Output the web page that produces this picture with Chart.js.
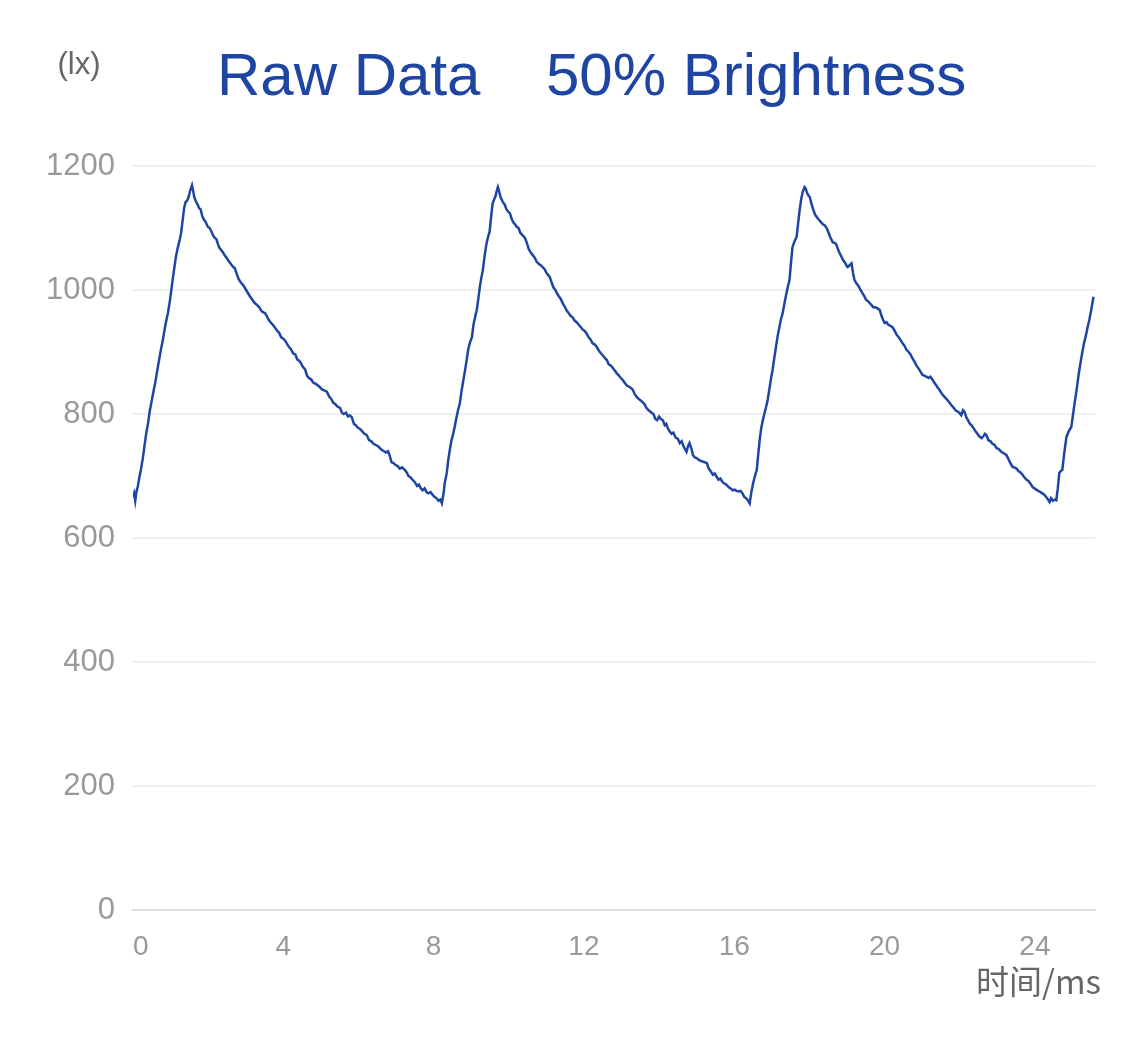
<!DOCTYPE html>
<html>
<head>
<meta charset="utf-8">
<script src="https://cdn.jsdelivr.net/npm/chart.js@4"></script>
<style>
  html, body { margin: 0; padding: 0; background: #fff; }
  #wrap { width: 1125px; height: 1040px; position: relative; }
</style>
</head>
<body>
<div id="wrap"><canvas id="myChart" width="1125" height="1040"></canvas></div>
<script>
// tempo (ms)
var tempos = [
  0.00,0.03,0.06,0.09,0.13,0.17,0.21,0.26,0.30,0.35,0.40,0.45,0.50,0.55,0.59,0.64,0.69,0.74,0.79,0.84,0.89,0.93,0.97,1.01,1.05,1.10,1.14,1.19,1.24,1.28,1.32,1.36,1.40,1.44,1.48,1.52,1.57,
  1.60,1.63,1.68,1.72,1.76,1.80,1.84,1.88,1.93,1.99,2.04,2.09,2.14,2.18,2.22,2.26,2.30,2.34,2.39,2.44,2.49,2.53,2.58,2.63,2.67,2.71,2.76,2.81,2.87,2.93,2.99,3.05,3.11,3.18,3.24,3.30,3.36,3.42,3.47,3.51,3.56,3.61,3.66,3.72,3.78,3.84,3.89,3.94,3.99,4.04,4.10,4.15,4.20,4.26,4.32,4.37,4.42,4.47,4.52,4.58,4.63,4.68,4.74,4.79,4.85,4.90,4.96,5.02,5.09,5.16,5.22,5.28,5.33,5.38,5.44,5.51,5.56,5.61,5.67,5.72,5.77,5.82,5.88,5.93,5.98,6.04,6.10,6.16,6.22,6.28,6.34,6.40,6.46,6.52,6.57,6.62,6.68,6.73,6.79,6.84,6.88,6.93,6.98,7.04,7.10,7.16,7.23,7.28,7.33,7.38,7.44,7.50,7.56,7.61,7.66,7.71,7.76,7.81,7.86,7.92,7.98,8.03,8.08,8.13,8.18,8.22,
  8.26,8.30,8.35,8.39,8.43,8.47,8.52,8.56,8.60,8.65,8.70,8.74,8.79,8.84,8.88,8.92,8.97,9.02,9.06,9.11,9.15,9.19,9.23,9.27,9.31,9.36,9.41,9.45,9.49,9.53,9.57,9.61,9.65,9.68,9.71,
  9.74,9.78,9.84,9.89,9.94,9.99,10.03,10.08,10.13,10.17,10.21,10.26,10.31,10.37,10.43,10.48,10.53,10.59,10.64,10.69,10.74,10.80,10.85,10.90,10.95,11.00,11.05,11.09,11.14,11.19,11.24,11.28,11.33,11.38,11.44,11.49,11.55,11.60,11.65,11.70,11.76,11.81,11.86,11.92,11.97,12.02,12.07,12.12,12.18,12.23,12.29,12.34,12.40,12.45,12.51,12.56,12.61,12.66,12.72,12.77,12.82,12.87,12.93,12.98,13.03,13.09,13.14,13.20,13.25,13.30,13.35,13.40,13.46,13.51,13.56,13.61,13.66,13.72,13.76,13.80,13.85,13.90,13.95,14.00,14.05,14.10,14.15,14.19,14.23,14.28,14.33,14.38,14.44,14.50,14.55,14.60,14.65,14.70,14.73,14.77,14.81,14.86,14.90,14.95,15.00,15.06,15.12,15.18,15.22,15.27,15.32,15.37,15.43,15.48,15.52,15.58,15.63,15.69,15.74,15.79,15.85,15.90,15.96,16.01,16.06,16.12,16.17,16.22,16.27,16.32,16.37,16.41,
  16.45,16.50,16.55,16.60,16.64,16.68,16.72,16.76,16.80,16.85,16.89,16.94,16.98,17.02,17.06,17.11,17.15,17.20,17.24,17.29,17.34,17.39,17.43,17.47,17.51,17.55,17.60,17.66,17.70,17.74,17.78,17.82,17.87,
  17.90,17.94,17.98,18.01,18.05,18.10,18.15,18.19,18.24,18.30,18.36,18.41,18.46,18.50,18.55,18.58,18.62,18.67,18.71,18.76,18.80,18.85,18.90,18.95,19.00,19.02,19.07,19.12,19.16,19.20,19.26,19.31,19.36,19.41,19.46,19.51,19.56,19.60,19.65,19.70,19.76,19.82,19.87,19.92,19.96,20.00,20.05,20.10,20.16,20.21,20.27,20.32,20.37,20.42,20.48,20.53,20.58,20.64,20.69,20.74,20.80,20.85,20.90,20.96,21.01,21.06,21.12,21.17,21.22,21.28,21.33,21.38,21.42,21.46,21.51,21.56,21.62,21.68,21.73,21.78,21.84,21.89,21.94,21.99,22.04,22.09,22.13,22.18,22.22,22.26,22.31,22.36,22.42,22.47,22.52,22.58,22.63,22.67,22.71,22.76,22.82,22.87,22.93,22.98,23.03,23.09,23.14,23.19,23.24,23.29,23.34,23.40,23.45,23.51,23.56,23.61,23.67,23.72,23.78,23.83,23.88,23.94,23.99,24.04,24.09,24.15,24.20,24.25,24.30,24.35,24.39,24.43,24.48,24.53,24.57,
  24.61,24.65,24.69,24.73,24.78,24.84,24.90,24.97,25.04,25.11,25.17,25.24,25.30,25.37,25.41,25.45,25.50,25.56
]
// iluminancia (lx)
var lux = [
  666,672,660,674,684,698,710,728,746,768,785,806,822,838,850,868,886,903,918,936,952,963,978,995,1014,1036,1053,1068,1080,1092,1112,1132,1142,1144,1150,1160,1169,
  1160,1150,1142,1138,1132,1130,1120,1114,1110,1102,1100,1094,1087,1084,1082,1074,1068,1065,1061,1056,1052,1048,1044,1040,1037,1035,1026,1018,1012,1008,1002,996,990,984,979,976,972,966,964,963,958,952,948,944,939,934,931,924,922,919,913,908,905,898,896,888,886,882,876,872,862,858,856,851,849,847,844,840,838,836,828,824,818,816,812,810,802,800,802,796,798,795,784,782,778,776,772,768,766,758,756,752,750,748,745,742,740,738,740,731,722,721,718,716,712,714,710,706,700,698,694,690,684,686,680,677,680,674,672,674,669,666,664,660,662,656,
  670,690,705,726,742,756,768,779,792,806,818,836,854,872,887,904,916,924,944,958,968,986,1005,1020,1032,1056,1076,1086,1094,1118,1140,1146,1152,1160,1166,
  1160,1150,1142,1138,1130,1126,1124,1114,1108,1106,1102,1100,1092,1088,1084,1076,1066,1060,1056,1052,1046,1042,1040,1037,1034,1028,1024,1021,1012,1004,1000,995,990,986,978,973,966,962,958,956,950,948,944,940,936,934,930,924,920,914,912,908,902,898,894,890,887,880,878,874,870,866,862,858,855,850,846,844,842,839,832,828,824,822,819,816,810,806,804,802,800,792,790,796,792,790,782,784,777,772,768,770,762,760,753,756,748,742,739,748,753,744,734,730,729,726,724,723,722,721,712,708,702,704,700,694,696,690,688,686,682,680,677,678,676,675,676,672,666,664,660,656,
  672,688,700,710,736,760,778,790,800,812,823,842,858,871,888,908,924,940,952,963,980,995,1006,1016,1044,1069,1078,1086,1108,1129,1146,1158,1166,
  1164,1156,1152,1150,1140,1130,1122,1118,1114,1110,1106,1104,1100,1094,1086,1082,1077,1076,1074,1066,1060,1054,1048,1044,1038,1037,1040,1043,1028,1016,1010,1006,1000,995,990,984,982,979,976,972,972,970,968,958,952,947,948,944,942,940,934,928,924,920,914,910,904,900,896,890,884,878,874,868,863,862,860,858,860,855,850,846,842,839,834,830,826,822,818,814,810,806,804,802,798,806,803,794,790,785,782,778,772,768,764,761,764,768,766,758,756,752,750,745,744,740,738,736,734,728,722,715,714,712,708,706,702,698,694,692,688,682,680,678,676,674,672,670,666,662,658,664,660,662,661,
  680,705,708,710,736,763,772,779,810,839,866,892,912,930,942,952,968,989
]
var ticksY = [0, 200, 400, 600, 800, 1000, 1200]
var ticksX = [0, 4, 8, 12, 16, 20, 24]

var pontos = tempos.map(function (t, i) { return { x: t, y: lux[i] } })

var azul = '#1e45a2'
var cinza = '#999999'

// textos fora do grafico
const textos = {
  id: 'textos',
  afterDraw(chart) {
    var c = chart.ctx
    c.save()
    c.fillStyle = azul
    c.font = '60px "Liberation Sans", Arial, sans-serif'
    c.textBaseline = 'alphabetic'
    c.textAlign = 'left'
    c.fillText('Raw Data', 217, 95)
    c.fillText('50% Brightness', 546, 95)
    c.fillStyle = '#666666'
    c.font = '31px "Liberation Sans", Arial, sans-serif'
    c.textAlign = 'center'
    c.fillText('(lx)', 79, 74)
    c.textAlign = 'right'
    c.font = '33px "Noto Sans CJK SC", "Liberation Sans", sans-serif'
    c.fillText('时间/ms', 1101, 994)
    c.restore()
  }
}

const ctx = document.getElementById('myChart')

new Chart(ctx, {
  type: 'line',
  data: {
    datasets: [{
      label: 'lx',
      data: pontos,
      borderColor: azul,
      borderWidth: 2.5,
      pointRadius: 0,
      tension: 0,
      fill: false
    }]
  },
  options: {
    responsive: false,
    animation: false,
    events: [],
    layout: { padding: { top: 166, right: 30, left: 0, bottom: 0 } },
    plugins: {
      legend: { display: false },
      tooltip: { enabled: false }
    },
    scales: {
      x: {
        type: 'linear',
        min: 0,
        max: 25.6,
        afterFit: function (scale) { scale.height = 130 },
        afterBuildTicks: function (scale) {
          scale.ticks = ticksX.map(function (v) { return { value: v } }).concat([{ value: 25.6 }])
        },
        grid: { display: false, drawTicks: false },
        border: { display: true, color: '#dddddd', width: 2 },
        ticks: {
          align: 'inner',
          maxRotation: 0,
          autoSkip: false,
          padding: 20,
          color: cinza,
          font: { family: '"Liberation Sans", Arial, sans-serif', size: 28 },
          callback: function (v) { return ticksX.indexOf(v) >= 0 ? String(v) : '' }
        }
      },
      y: {
        min: 0,
        max: 1200,
        afterFit: function (scale) { scale.width = 133 },
        afterBuildTicks: function (scale) {
          scale.ticks = ticksY.map(function (v) { return { value: v } })
        },
        grid: { color: '#efefef', lineWidth: 2, drawTicks: false },
        border: { display: false },
        ticks: {
          padding: 18,
          color: cinza,
          font: { family: '"Liberation Sans", Arial, sans-serif', size: 31 },
          callback: function (v) { return String(v) }
        }
      }
    }
  },
  plugins: [textos]
})
</script>
</body>
</html>
